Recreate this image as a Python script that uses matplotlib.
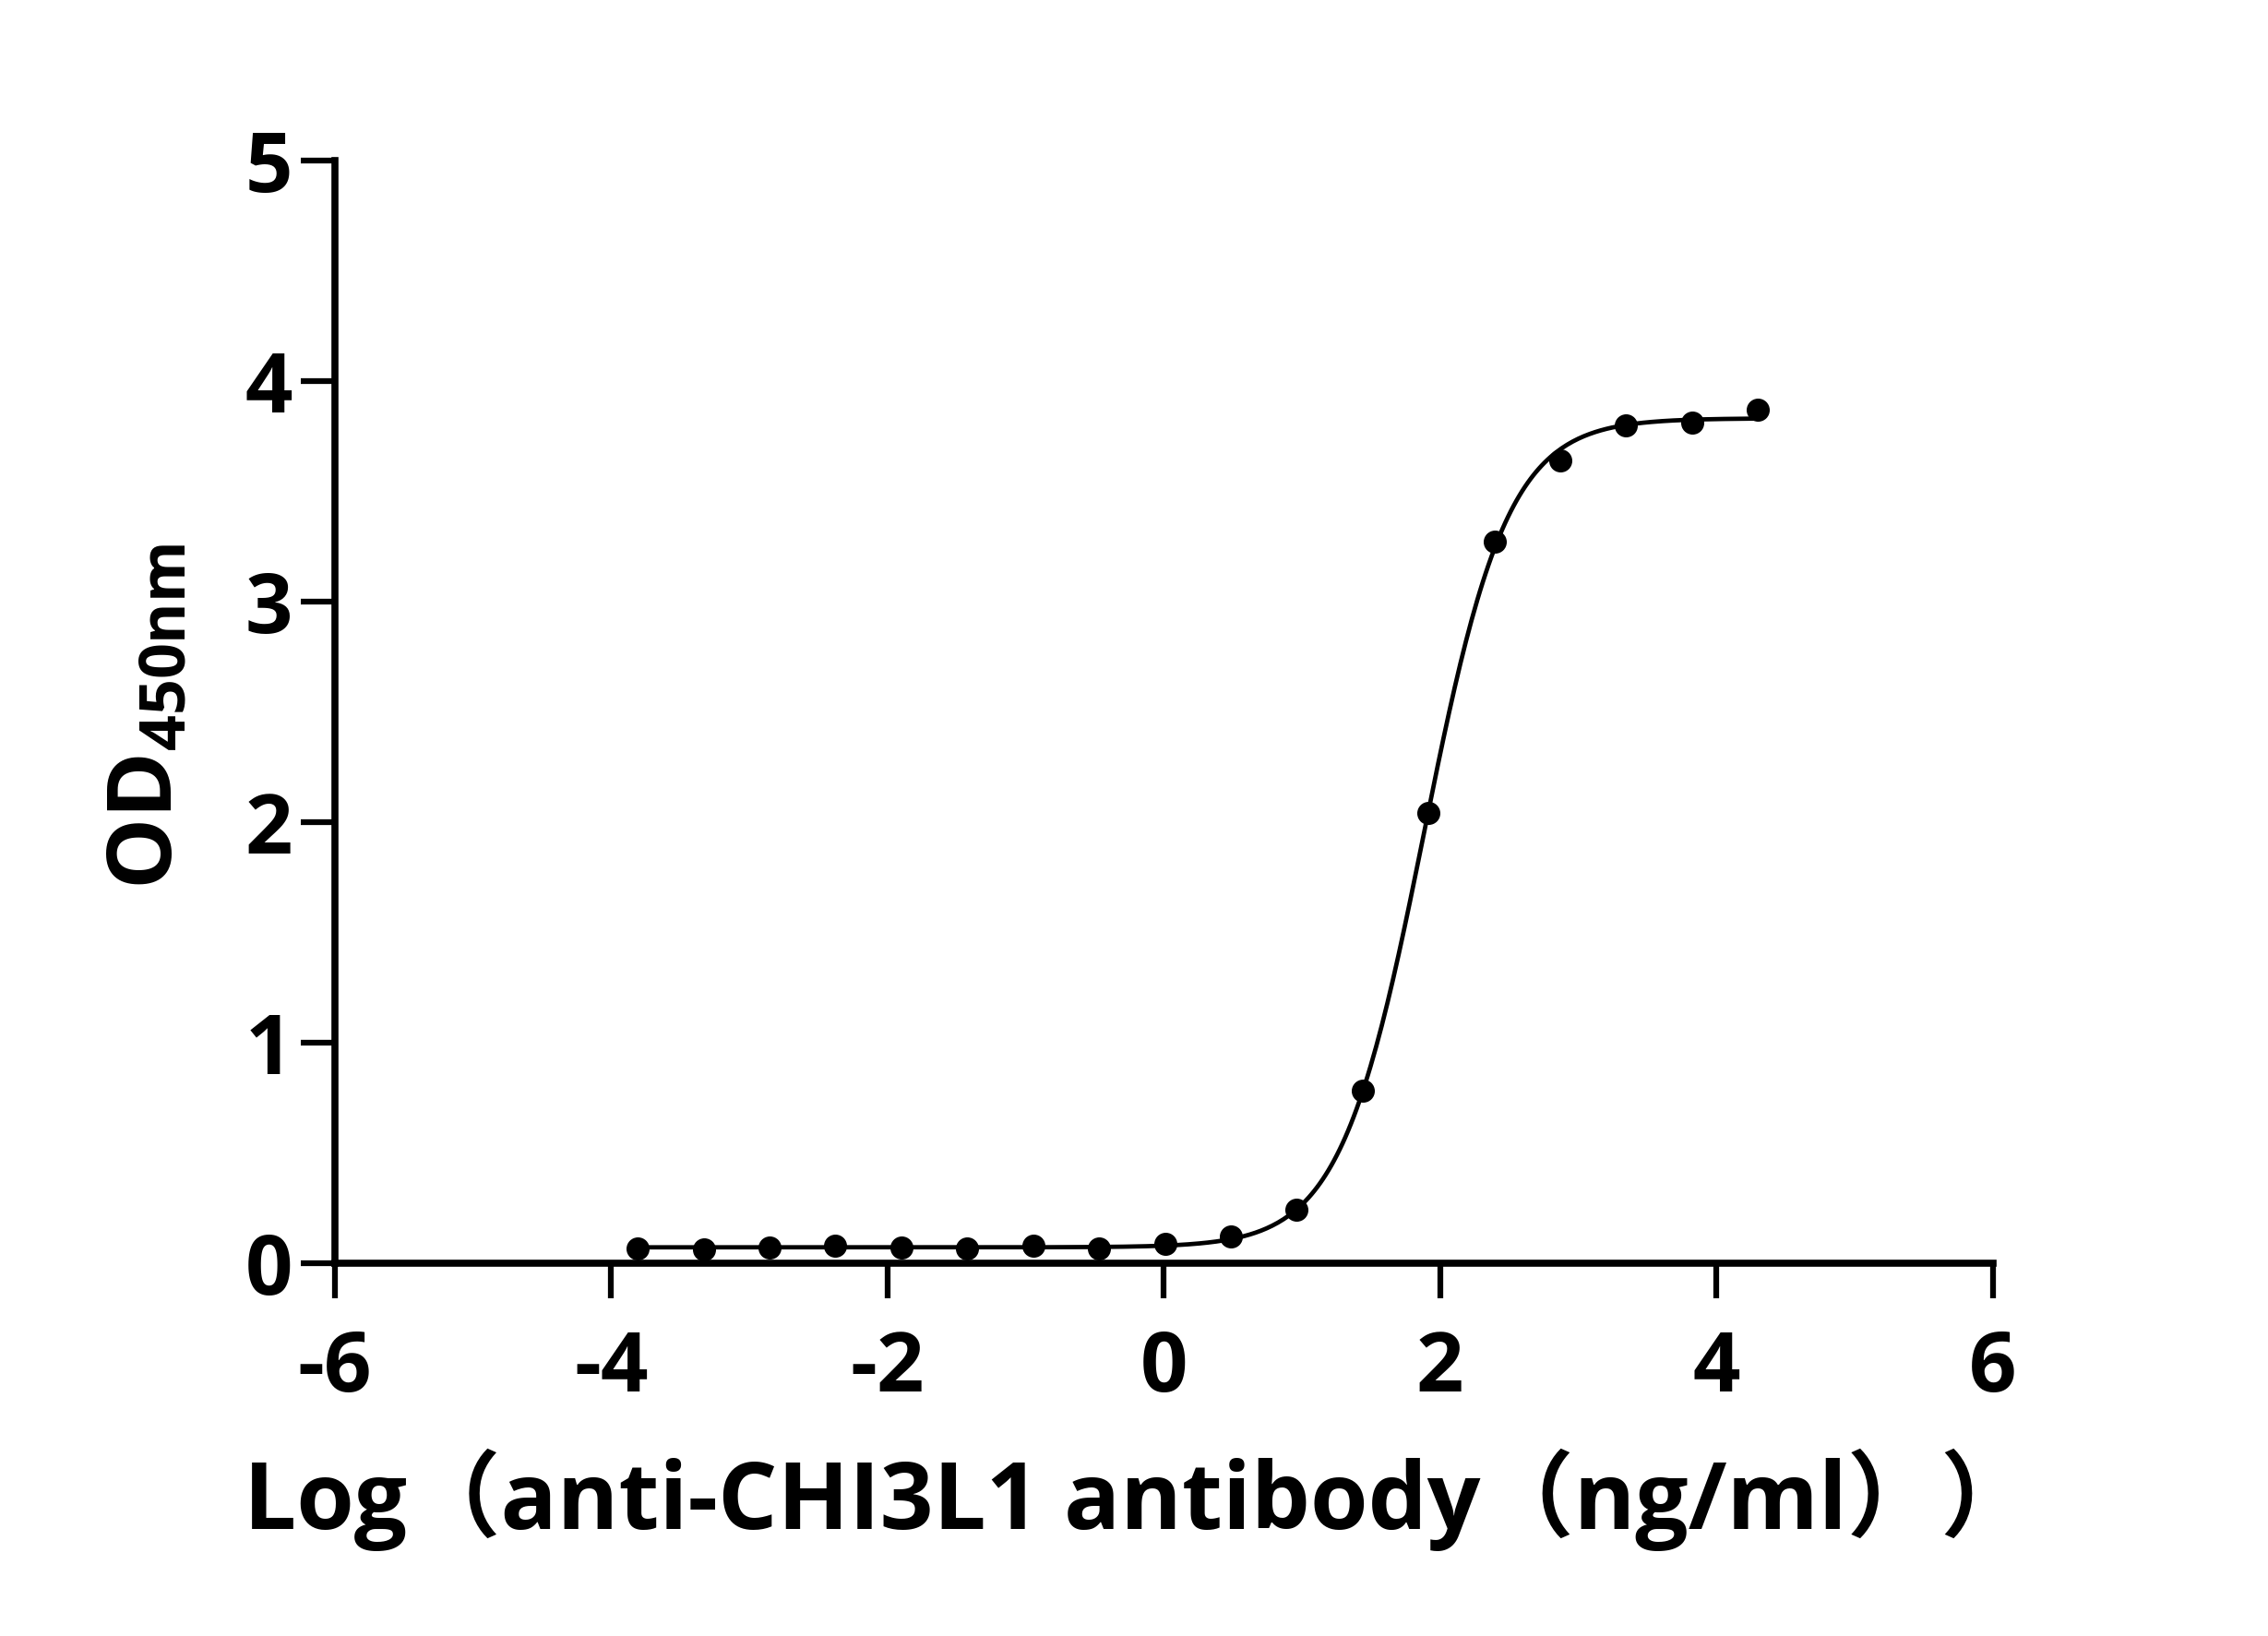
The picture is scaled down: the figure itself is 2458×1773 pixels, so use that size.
import numpy as np
import matplotlib.pyplot as plt

plt.rcParams['font.family'] = ['Open Sans', 'Noto Sans CJK SC', 'DejaVu Sans']
plt.rcParams['font.weight'] = 'bold'
plt.rcParams['mathtext.fontset'] = 'custom'
plt.rcParams['mathtext.rm'] = 'Open Sans:bold'
plt.rcParams['mathtext.bf'] = 'Open Sans:bold'

# Datos: log10 de la concentracion (diluciones 1:3 desde 20000 ng/ml) y OD450
log_conc = [-3.808, -3.331, -2.854, -2.377, -1.900, -1.423, -0.946, -0.469,
            0.008, 0.485, 0.962, 1.439, 1.916, 2.393, 2.870, 3.347, 3.824, 4.301]
od450 = [0.066, 0.060, 0.070, 0.080, 0.070, 0.065, 0.080, 0.065,
         0.085, 0.120, 0.240, 0.780, 2.040, 3.270, 3.640, 3.800, 3.810, 3.870]

x_ticks = [-6, -4, -2, 0, 2, 4, 6]
y_ticks = [0, 1, 2, 3, 4, 5]
x_label = "Log（anti-CHI3L1 antibody（ng/ml））"


def logistic4(x, p):
    bottom, top, c, h = p
    return bottom + (top - bottom) / (1 + 10 ** (h * (c - x)))


# Ajuste 4PL (Gauss-Newton sencillo)
x = np.array(log_conc)
y = np.array(od450)
p = np.array([0.07, 3.84, 1.88, 1.45])
for it in range(50):
    r = y - logistic4(x, p)
    J = np.zeros((len(x), 4))
    for k in range(4):
        dp = np.zeros(4)
        dp[k] = 1e-6
        J[:, k] = (logistic4(x, p + dp) - logistic4(x, p)) / 1e-6
    step = np.linalg.lstsq(J, r, rcond=None)[0]
    p = p + step
    if np.abs(step).max() < 1e-9:
        break

xs = np.linspace(x.min(), x.max(), 400)

fig = plt.figure(figsize=(24.58, 17.73), dpi=100)
ax = fig.add_axes([0.1477, 0.228, 0.7309, 0.674])
ax.plot(xs, logistic4(xs, p), color='black', linewidth=3.4)
ax.plot(x, y, 'o', color='black', markersize=17)

ax.set_xlim(-6, 6)
ax.set_ylim(0, 5)
ax.set_xticks(x_ticks)
ax.set_yticks(y_ticks)
ax.set_xticklabels([str(t) for t in x_ticks])
ax.set_yticklabels([str(t) for t in y_ticks])
for s in ['top', 'right']:
    ax.spines[s].set_visible(False)
for s in ['left', 'bottom']:
    ax.spines[s].set_linewidth(5.5)
ax.tick_params(axis='both', direction='out', length=27, width=4.5, labelsize=65)
ax.tick_params(axis='x', pad=24)
ax.tick_params(axis='y', pad=6)
for lab in ax.get_xticklabels() + ax.get_yticklabels():
    lab.set_fontweight('bold')

fig.text(0.502, 0.0655, x_label, fontsize=73, fontweight='bold', ha='center', va='baseline')
fig.text(0.0655, 0.562, r'$\mathbf{OD}_{\mathbf{450nm}}$', fontsize=70, rotation=90,
         ha='center', va='center')

fig.savefig("out.png", dpi=100)
